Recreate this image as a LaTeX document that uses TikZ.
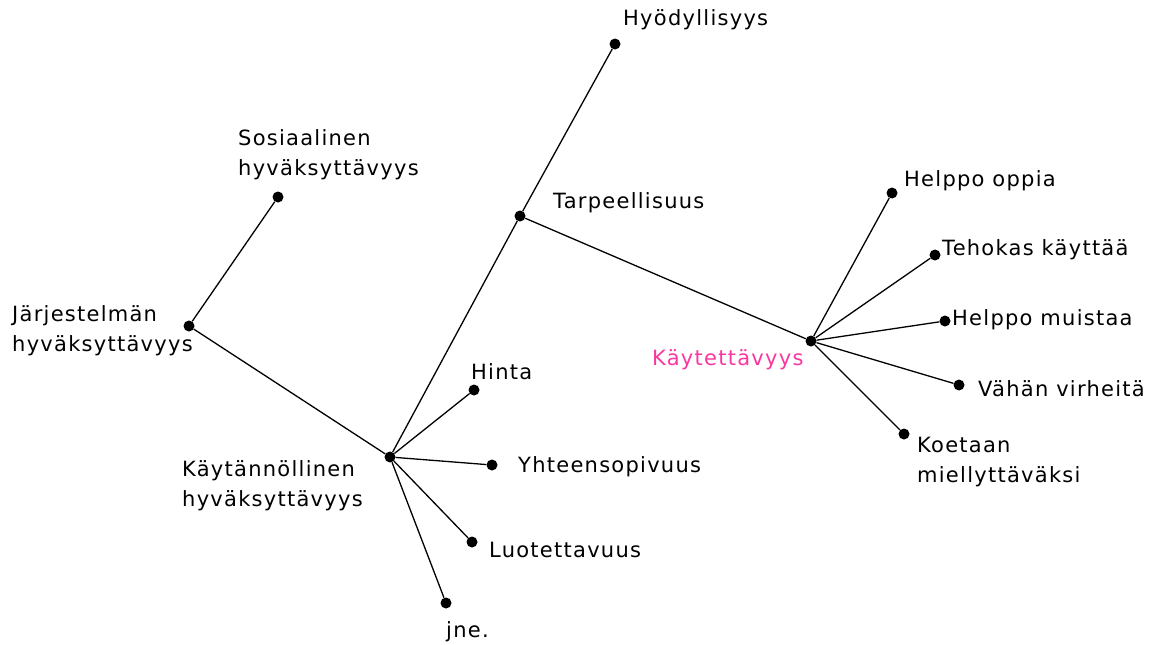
\documentclass[tikz,border=0pt]{standalone}
\usepackage{fontspec}
\setmainfont[LetterSpace=6]{DejaVu Sans}
\usepackage{xcolor}
\usepackage{tikz}
\usetikzlibrary{positioning}
\definecolor{hotpink}{RGB}{250,55,160}

\begin{document}
\begin{tikzpicture}[x=1pt, y=-1pt, font=\fontsize{21}{30}\selectfont,
  dot/.style={circle, fill=black, inner sep=0pt, minimum size=11pt},
  txt/.style={anchor=west, inner sep=0pt, align=left},
  link/.style={line width=1.3pt}]
\useasboundingbox (0,0) rectangle (1152,645);
% dots
\node[dot] (jarj) at (189,326) {};
\node[dot] (sos) at (278,197) {};
\node[dot] (kayt) at (390,457) {};
\node[dot] (tarp) at (520,216) {};
\node[dot] (hyod) at (615,44) {};
\node[dot] (hinta) at (474,390) {};
\node[dot] (yht) at (492,465) {};
\node[dot] (luot) at (472,542) {};
\node[dot] (jne) at (446,603) {};
\node[dot] (kaytto) at (811,341) {};
\node[dot] (oppia) at (892,193) {};
\node[dot] (tehok) at (935,255) {};
\node[dot] (muist) at (945,321) {};
\node[dot] (virhe) at (959,385) {};
\node[dot] (miel) at (904,434) {};
% labels
\node[txt] (l-jarj) at (12,331) {Järjestelmän\\hyväksyttävyys};
\node[txt] (l-sos) at (238,155) {Sosiaalinen\\hyväksyttävyys};
\node[txt] (l-kayt) at (182,486) {Käytännöllinen\\hyväksyttävyys};
\node[txt] (l-tarp) at (553,203) {Tarpeellisuus};
\node[txt] (l-hyod) at (623,20) {Hyödyllisyys};
\node[txt] (l-hinta) at (471,372) {Hinta};
\node[txt] (l-yht) at (518,467) {Yhteensopivuus};
\node[txt] (l-luot) at (489,550) {Luotettavuus};
\node[txt] (l-jne) at (446,632) {jne.};
\node[txt, text=hotpink] (l-kaytto) at (652,360) {Käytettävyys};
\node[txt] (l-oppia) at (904,181) {Helppo oppia};
\node[txt] (l-tehok) at (942,250) {Tehokas käyttää};
\node[txt] (l-muist) at (952,320) {Helppo muistaa};
\node[txt] (l-virhe) at (978,389) {Vähän virheitä};
\node[txt] (l-miel) at (917,462) {Koetaan\\miellyttäväksi};
% links
\draw[link] (sos) -- (jarj) -- (kayt) -- (tarp) -- (hyod);
\draw[link] (tarp) -- (kaytto);
\foreach \n in {hinta, yht, luot, jne} \draw[link] (kayt) -- (\n);
\foreach \n in {oppia, tehok, muist, virhe, miel} \draw[link] (kaytto) -- (\n);
\end{tikzpicture}
\end{document}
